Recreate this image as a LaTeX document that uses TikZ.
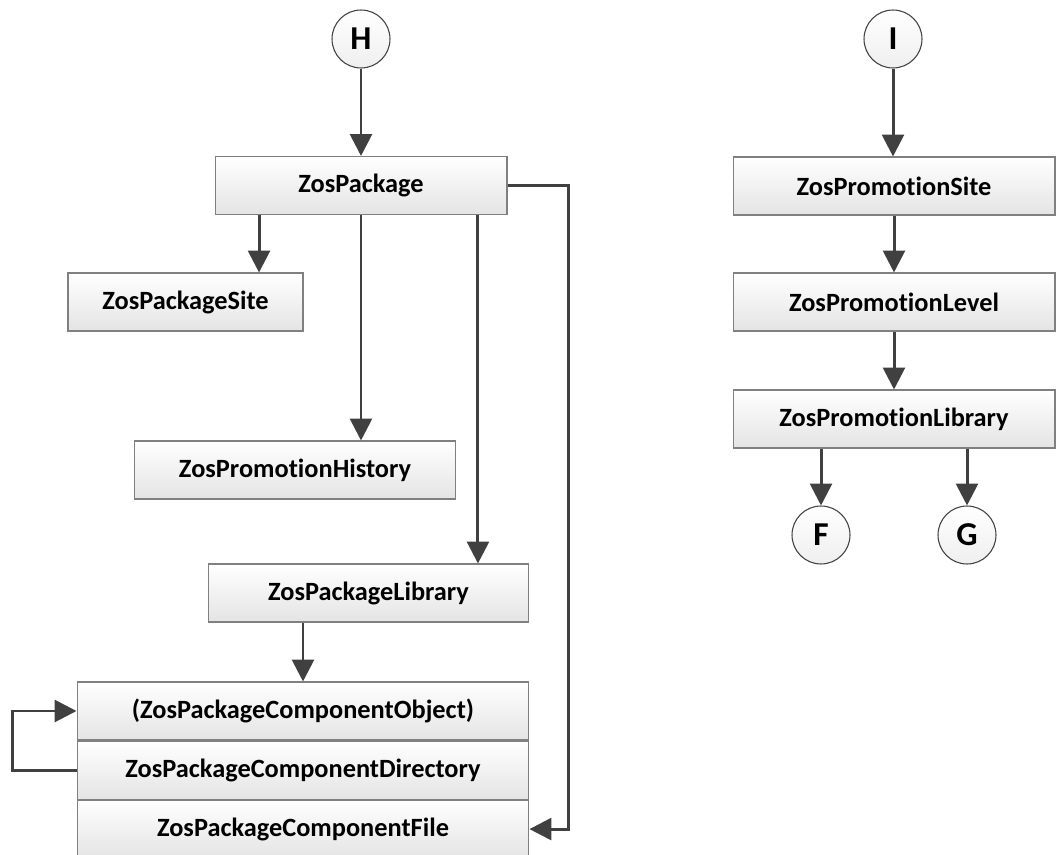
\documentclass[tikz,border=0pt]{standalone}
\usepackage{fontspec}
\setmainfont{Carlito}[Ligatures=NoCommon]
\usetikzlibrary{arrows.meta,positioning}
\definecolor{linegray}{RGB}{64,64,64}
\definecolor{edgegray}{RGB}{128,128,128}
\definecolor{shadegray}{RGB}{228,228,228}
\tikzset{
  tbl/.style={draw=edgegray, line width=0.6pt, top color=white, bottom color=shadegray,
    minimum height=1.16cm, inner sep=0pt, font=\fontsize{15}{17}\selectfont\bfseries},
  conn/.style={circle, draw=linegray, line width=0.6pt, top color=white, bottom color=shadegray!60,
    minimum size=1.16cm, inner sep=0pt, font=\fontsize{19}{21}\selectfont\bfseries},
  link/.style={draw=linegray, line width=1.7pt, -{Triangle[width=12.5pt,length=12.5pt]}}
}
\begin{document}
\begin{tikzpicture}[x=0.02cm,y=-0.02cm]
        \useasboundingbox (0,0) rectangle (1059,855);
        \node[conn] (H) at (361,39) {H};
        \node[tbl, minimum width=5.84cm] (pkg) at (361,185.5) {ZosPackage};
        \node[tbl, minimum width=4.7cm] (pkgsite) at (185.5,302) {ZosPackageSite};
        \node[tbl, minimum width=6.44cm] (promhist) at (295,470) {ZosPromotionHistory};
        \node[tbl, minimum width=6.42cm] (pkglib) at (368.5,593) {ZosPackageLibrary};
        \node[tbl, minimum width=9.04cm] (obj) at (303,711) {(ZosPackageComponentObject)};
        \node[tbl, minimum width=9.04cm, below=0pt of obj] (dir) {ZosPackageComponentDirectory};
        \node[tbl, minimum width=9.04cm, below=0pt of dir] (file) {ZosPackageComponentFile};
        \node[conn] (I) at (893,39) {I};
        \node[tbl, minimum width=6.44cm] (promsite) at (894,186) {ZosPromotionSite};
        \node[tbl, minimum width=6.44cm] (promlevel) at (894,302) {ZosPromotionLevel};
        \node[tbl, minimum width=6.44cm] (promlib) at (894,419) {ZosPromotionLibrary};
        \node[conn] (F) at (821,535) {F};
        \node[conn] (G) at (967,535) {G};
        \coordinate (pkgA) at ([xshift=-2.04cm]pkg.south);
        \coordinate (pkgB) at ([xshift=2.34cm]pkg.south);
        \draw[link] (H) -- (pkg);
        \draw[link] (pkgA) -- (pkgA |- pkgsite.north);
        \draw[link] (pkg.south) -- (pkg.south |- promhist.north);
        \draw[link] (pkgB) -- (pkgB |- pkglib.north);
        \draw[link] (pkg.east) -- ++(1.22cm,0) |- (file.east);
        \draw[link] (pkglib.south -| obj.north) -- (obj.north);
        \draw[link] (dir.west) -- ++(-1.28cm,0) |- (obj.west);
        \draw[link] (I) -- (I |- promsite.north);
        \draw[link] (promsite) -- (promlevel);
        \draw[link] (promlevel) -- (promlib);
        \draw[link] (promlib.south -| F.north) -- (F.north);
        \draw[link] (promlib.south -| G.north) -- (G.north);
\end{tikzpicture}
\end{document}
